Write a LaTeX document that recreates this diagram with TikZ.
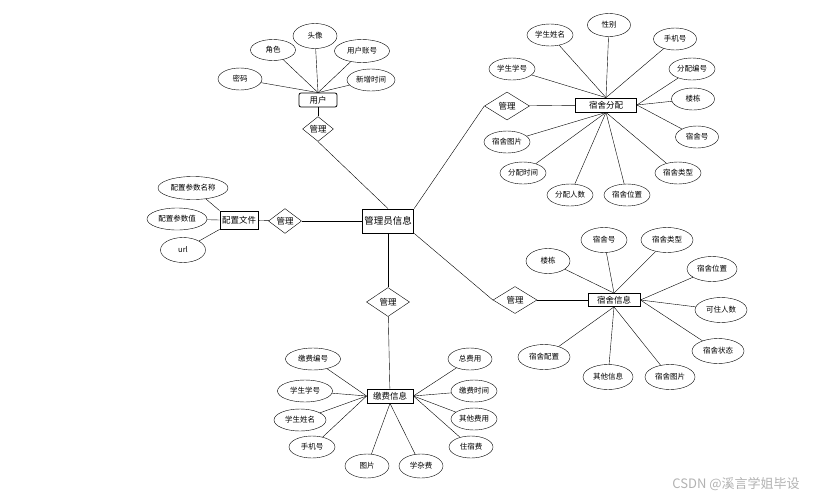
\documentclass[tikz,border=0pt]{standalone}
\usepackage{fontspec}
\setmainfont{Noto Sans CJK SC}
\usetikzlibrary{shapes.geometric,
                positioning}

\begin{document}
\begin{tikzpicture}[x=1pt, y=-1pt,
                    attr/.style={draw, ellipse, fill=white, minimum width=46pt, minimum height=22pt,
                                 inner sep=1pt, font=\fontsize{7.5}{8}\selectfont},
                    entity/.style={draw, thick, fill=white, minimum height=14pt, inner sep=2pt,
                                   font=\fontsize{8.5}{9}\selectfont},
                    rel/.style={draw, diamond, fill=white, inner sep=0pt, minimum width=42pt,
                                minimum height=27pt, font=\fontsize{8.5}{9}\selectfont},
                    link/.style={thin}
                    ]
        \useasboundingbox (0,0) rectangle (816,498);

        % entities
        \node[entity, rounded corners=2pt, minimum width=38pt] (User) at (318,100) {用户};
        \node[entity, minimum width=61pt] (Alloc) at (606,105) {宿舍分配};
        \node[entity, minimum width=50pt, minimum height=24pt, font=\fontsize{9.5}{10}\selectfont] (Admin) at (388,221) {管理员信息};
        \node[entity, minimum width=36pt, minimum height=18pt] (Conf) at (239,220) {配置文件};
        \node[entity, minimum width=52pt, minimum height=13pt] (Dorm) at (614,300) {宿舍信息};
        \node[entity, minimum width=46pt] (Fee) at (390,396) {缴费信息};

        % relations
        \node[rel, minimum width=31pt, minimum height=24pt] (R1) at (318,129) {管理};
        \node[rel, minimum width=45pt, minimum height=28pt] (R2) at (507,106) {管理};
        \node[rel, minimum width=44pt, minimum height=27pt] (R3) at (515,300) {管理};
        \node[rel, minimum width=33pt, minimum height=18pt] (R4) at (285,221) {管理};
        \node[rel, minimum width=43pt, minimum height=29pt] (R5) at (388,302) {管理};

        % user attributes
        \node[attr, minimum width=44pt] (U1) at (240,79) {密码};
        \node[attr, minimum width=45pt, minimum height=21pt] (U2) at (273,50) {角色};
        \node[attr, minimum width=44pt, minimum height=25pt] (U3) at (315,36) {头像};
        \node[attr, minimum width=55pt, minimum height=23pt] (U4) at (362,51) {用户账号};
        \node[attr, minimum width=48pt] (U5) at (371,80) {新增时间};

        % allocation attributes
        \node[attr] (F1) at (512,69) {学生学号};
        \node[attr] (F2) at (550,35) {学生姓名};
        \node[attr, minimum width=43pt, minimum height=23pt] (F3) at (609,25) {性别};
        \node[attr, minimum width=43pt] (F4) at (675,39) {手机号};
        \node[attr] (F5) at (692,69) {分配编号};
        \node[attr, minimum width=43pt] (F6) at (693,99) {楼栋};
        \node[attr, minimum width=43pt] (F7) at (697,137) {宿舍号};
        \node[attr] (F8) at (678,173) {宿舍类型};
        \node[attr] (F9) at (627,195) {宿舍位置};
        \node[attr] (F10) at (570,195) {分配人数};
        \node[attr] (F11) at (523,173) {分配时间};
        \node[attr] (F12) at (507,142) {宿舍图片};

        % config attributes
        \node[attr, minimum width=70pt, minimum height=23pt] (C1) at (193,188) {配置参数名称};
        \node[attr, minimum width=60pt] (C2) at (177,219) {配置参数值};
        \node[attr, minimum width=45pt, minimum height=25pt] (C3) at (183,250) {url};

        % dorm attributes
        \node[attr, minimum width=44pt, minimum height=25pt] (D1) at (548,261) {楼栋};
        \node[attr, minimum width=46pt, minimum height=25pt] (D2) at (604,240) {宿舍号};
        \node[attr, minimum width=52pt, minimum height=25pt] (D3) at (667,240) {宿舍类型};
        \node[attr, minimum width=50pt, minimum height=25pt] (D4) at (712,269) {宿舍位置};
        \node[attr, minimum width=52pt, minimum height=25pt] (D5) at (721,310) {可住人数};
        \node[attr, minimum width=52pt, minimum height=25pt] (D6) at (718,351) {宿舍状态};
        \node[attr, minimum width=50pt, minimum height=25pt] (D7) at (670,377) {宿舍图片};
        \node[attr, minimum width=50pt, minimum height=25pt] (D8) at (608,377) {其他信息};
        \node[attr, minimum width=52pt, minimum height=25pt] (D9) at (544,357) {宿舍配置};

        % fee attributes
        \node[attr, minimum width=55pt] (P1) at (313,359) {缴费编号};
        \node[attr, minimum width=55pt] (P2) at (305,391) {学生学号};
        \node[attr, minimum width=52pt] (P3) at (300,420) {学生姓名};
        \node[attr, minimum width=46pt] (P4) at (312,447) {手机号};
        \node[attr, minimum width=44pt, minimum height=24pt] (P5) at (367,466) {图片};
        \node[attr, minimum width=44pt, minimum height=24pt] (P6) at (421,466) {学杂费};
        \node[attr, minimum width=44pt] (P7) at (471,447) {住宿费};
        \node[attr, minimum width=46pt] (P8) at (474,419) {其他费用};
        \node[attr, minimum width=46pt] (P9) at (474,391) {缴费时间};
        \node[attr, minimum width=44pt] (P10) at (470,359) {总费用};

        % connectors
        \foreach \i in {1,...,5} { \draw[link] (U\i) -- (User.north); }
        \foreach \i in {1,...,4} { \draw[link] (F\i) -- (Alloc.north); }
        \foreach \i in {5,6,7} { \draw[link] (F\i) -- (Alloc.east); }
        \foreach \i in {8,...,12} { \draw[link] (F\i) -- (Alloc.south); }
        \draw[link] (C1) -- (Conf.north west);
        \draw[link] (C2) -- (Conf.west);
        \draw[link] (C3) -- (Conf.south west);
        \foreach \i in {1,2,3} { \draw[link] (D\i) -- (Dorm.north); }
        \foreach \i in {4,5,6} { \draw[link] (D\i) -- (Dorm.east); }
        \foreach \i in {7,8,9} { \draw[link] (D\i) -- (Dorm.south); }
        \foreach \i in {1,...,4} { \draw[link] (P\i) -- (Fee.west); }
        \foreach \i in {7,...,10} { \draw[link] (P\i) -- (Fee.east); }
        \foreach \i in {5,6} { \draw[link] (P\i) -- (Fee.south); }

        \draw[link] (User) -- (R1);
        \draw[link] (R1.south) -- (Admin.north);
        \draw[link] (Admin.north east) -- (R2.west);
        \draw[link] (R2) -- (Alloc);
        \draw[link] (Admin.south east) -- (R3.west);
        \draw[link] (R3) -- (Dorm);
        \draw[link] (Admin) -- (R4);
        \draw[link] (R4) -- (Conf);
        \draw[link] (Admin) -- (R5);
        \draw[link] (R5) -- (Fee);

        % watermark
        \node[text=black!30, font=\fontsize{13}{14}\selectfont] (Mark) at (736,484) {CSDN @溪言学姐毕设};
    \end{tikzpicture}
\end{document}
